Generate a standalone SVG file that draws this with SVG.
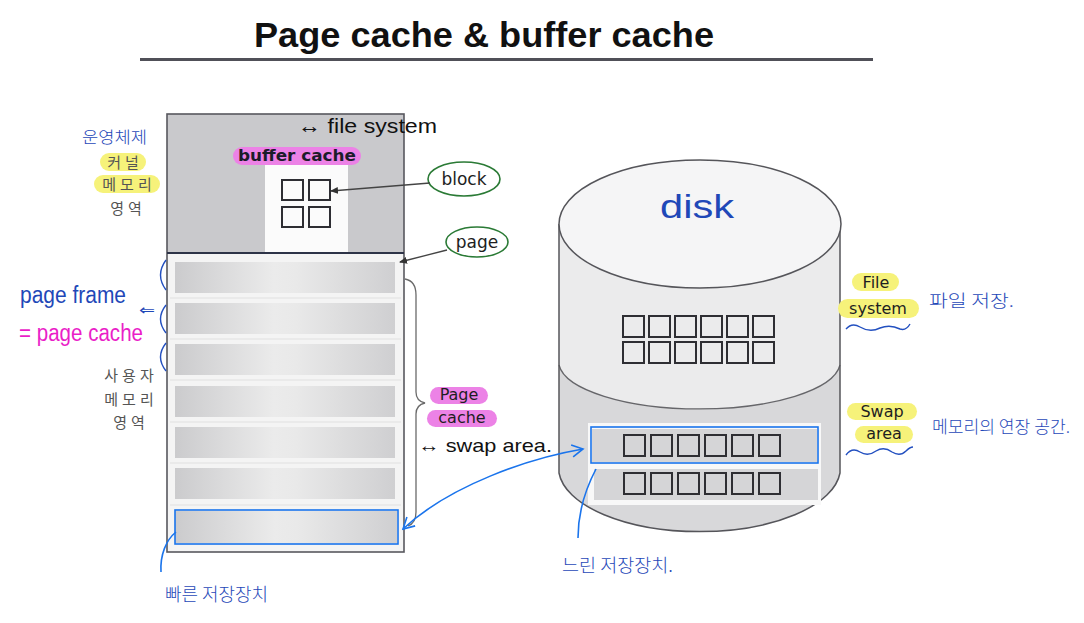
<svg xmlns="http://www.w3.org/2000/svg" width="1084" height="623" viewBox="0 0 1084 623">
<defs>
<style>
.title{font-family:"Liberation Sans","DejaVu Sans",sans-serif;font-weight:bold;font-size:35px;fill:#111}
.lbl{font-family:"DejaVu Sans","Liberation Sans",sans-serif;font-weight:bold;fill:#1c1c2a;text-anchor:middle}
.lbl2{font-family:"DejaVu Sans","Liberation Sans",sans-serif;font-weight:normal;fill:#1e1e22;text-anchor:middle}
.kr{font-family:"Noto Sans CJK KR","Noto Sans",sans-serif;fill:#555;text-anchor:middle;letter-spacing:4px;font-size:15px}
.hand{font-family:"Liberation Sans","DejaVu Sans","Noto Sans CJK KR",sans-serif;font-weight:normal}
.handkr{font-family:"Noto Sans CJK KR","Noto Sans",sans-serif;font-weight:300}
.blue{fill:#1f48b8}
.sq{fill:none;stroke:#2e2e33;stroke-width:2}
.pink{fill:#ec82e6}
.yel{fill:#f6f27a}
.conn{fill:none;stroke:#1a74ec;stroke-width:1.6}
.note{fill:none;stroke:#2350c0;stroke-width:1.4}
.gray{fill:none;stroke:#444;stroke-width:1.3}
.row{fill:url(#rowg)}
</style>
<linearGradient id="rowg" x1="0" y1="0" x2="1" y2="0">
<stop offset="0" stop-color="#cbcbcd"/>
<stop offset="0.45" stop-color="#ebebeb"/>
<stop offset="0.55" stop-color="#e9e9e9"/>
<stop offset="1" stop-color="#cfcfd1"/>
</linearGradient>
<marker id="ah" markerWidth="8" markerHeight="8" refX="7" refY="4" orient="auto" markerUnits="userSpaceOnUse">
<path d="M0,0.5 L8,4 L0,7.5 Z" fill="#333"/>
</marker>
<marker id="bh" markerWidth="14" markerHeight="14" refX="12" refY="7" orient="auto-start-reverse" markerUnits="userSpaceOnUse">
<path d="M1,1 L12,7 L1,13" fill="none" stroke="#1a74ec" stroke-width="1.6"/>
</marker>
</defs>
<rect width="1084" height="623" fill="#ffffff"/>

<g id="title">
<text class="title" x="254" y="47" textLength="460" lengthAdjust="spacingAndGlyphs">Page cache &amp; buffer cache</text>
<line x1="140" y1="59.5" x2="873" y2="59.5" stroke="#505058" stroke-width="3"/>
</g>

<g id="kernel-memory">
<rect x="167" y="114" width="237" height="139" fill="#c9c9cc"/>
<rect x="265" y="165" width="83" height="87" fill="#fbfbfb"/>
<rect class="sq" x="282" y="180" width="21" height="20"/>
<rect class="sq" x="309" y="180" width="21" height="20"/>
<rect class="sq" x="282" y="207" width="21" height="20"/>
<rect class="sq" x="309" y="207" width="21" height="20"/>
<rect class="pink" x="233" y="147" width="128" height="18" rx="9"/>
<text class="lbl" x="297" y="161" font-size="15" textLength="118" lengthAdjust="spacingAndGlyphs">buffer cache</text>
</g>

<g id="user-memory">
<rect x="167" y="253" width="237" height="299" fill="#f4f4f4"/>
<rect class="row" x="175" y="262" width="220" height="31"/>
<rect class="row" x="175" y="303" width="220" height="31"/>
<rect class="row" x="175" y="344" width="220" height="31"/>
<rect class="row" x="175" y="386" width="220" height="31"/>
<rect class="row" x="175" y="427" width="220" height="31"/>
<rect class="row" x="175" y="468" width="220" height="31"/>
<rect class="row" x="175" y="511" width="222" height="32"/>
<g stroke="#e0e0e0" stroke-width="1">
<line x1="170" y1="298" x2="401" y2="298"/>
<line x1="170" y1="339" x2="401" y2="339"/>
<line x1="170" y1="380" x2="401" y2="380"/>
<line x1="170" y1="422" x2="401" y2="422"/>
<line x1="170" y1="463" x2="401" y2="463"/>
<line x1="170" y1="505" x2="401" y2="505"/>
</g>
<rect x="175" y="510" width="223" height="34" fill="none" stroke="#1a74ec" stroke-width="1.6"/>
</g>
<rect id="memory-frame" x="167" y="114" width="237" height="438" fill="none" stroke="#58585e" stroke-width="1.6"/>
<line x1="167" y1="253" x2="404" y2="253" stroke="#2d3347" stroke-width="2"/>

<g id="kernel-label">
<text class="handkr blue" x="82" y="143" font-size="16" textLength="65" lengthAdjust="spacingAndGlyphs">운영체제</text>
<rect class="yel" x="100" y="153" width="46" height="18" rx="9"/>
<rect class="yel" x="94" y="175" width="66" height="18" rx="9"/>
<text class="kr" x="125" y="168">커널</text>
<text class="kr" x="129" y="190">메모리</text>
<text class="kr" x="128" y="214">영역</text>
</g>

<g id="user-label">
<text class="kr" x="131" y="381">사용자</text>
<text class="kr" x="131" y="405">메모리</text>
<text class="kr" x="131" y="428">영역</text>
<text class="hand blue" x="20" y="303" font-size="23" textLength="106" lengthAdjust="spacingAndGlyphs">page frame</text>
<text class="hand blue" x="139" y="315" font-size="15" textLength="16" lengthAdjust="spacingAndGlyphs">⇐</text>
<text class="hand" x="19" y="341" font-size="23" fill="#ea1ec8" textLength="124" lengthAdjust="spacingAndGlyphs">= page cache</text>
<path class="note" d="M166,260 Q155,275 166,290"/>
<path class="note" d="M166,305 Q155,319 166,333"/>
<path class="note" d="M166,343 Q155,357 166,371"/>
</g>

<g id="file-system-note">
<text class="hand" x="298" y="133" font-size="21" fill="#111" textLength="139" lengthAdjust="spacingAndGlyphs">↔ file system</text>
</g>

<g id="block-node">
<ellipse cx="464" cy="179" rx="36" ry="17" fill="#fff" stroke="#2a7a35" stroke-width="1.6"/>
<text class="lbl2" x="464" y="185" font-size="17">block</text>
</g>

<g id="page-node">
<ellipse cx="477" cy="242" rx="31" ry="15" fill="#fff" stroke="#2a7a35" stroke-width="1.6"/>
<text class="lbl2" x="477" y="248" font-size="17">page</text>
</g>

<g id="page-cache-label">
<path fill="none" stroke="#6a6a6a" stroke-width="1.3" d="M405,279 Q416,281 416,295 L416,392 Q416,401 425,403 Q416,405 416,414 L416,512 Q416,523 408,526"/>
<rect class="pink" x="430" y="387" width="58" height="17" rx="8.5"/>
<rect class="pink" x="427" y="410" width="70" height="17" rx="8.5"/>
<text class="lbl2" x="459" y="400" font-size="16">Page</text>
<text class="lbl2" x="462" y="423" font-size="16">cache</text>
<text class="hand" x="418" y="452" font-size="19" fill="#111" textLength="134" lengthAdjust="spacingAndGlyphs">↔ swap area.</text>
</g>

<g id="disk">
<path d="M559,224 L559,473 A141,64 0 0 0 840,473 L840,224 Z" fill="#d8d8da"/>
<path d="M559,224 L559,365 A141,48 0 0 0 840,365 L840,224 Z" fill="#ebebec"/>
<path d="M559,365 A141,48 0 0 0 840,365" fill="none" stroke="#66666a" stroke-width="1.3"/>
<path d="M559,224 L559,473 A141,64 0 0 0 840,473 L840,224" fill="none" stroke="#55555a" stroke-width="1.5"/>
<ellipse cx="700" cy="224" rx="141" ry="64" fill="#f5f5f6" stroke="#55555a" stroke-width="1.5"/>
<text class="hand blue" x="660" y="218" font-size="34" textLength="74" lengthAdjust="spacingAndGlyphs">disk</text>
<g id="fs-blocks">
<rect class="sq" x="623" y="316" width="21" height="21"/>
<rect class="sq" x="649" y="316" width="21" height="21"/>
<rect class="sq" x="675" y="316" width="21" height="21"/>
<rect class="sq" x="701" y="316" width="21" height="21"/>
<rect class="sq" x="727" y="316" width="21" height="21"/>
<rect class="sq" x="753" y="316" width="21" height="21"/>
<rect class="sq" x="623" y="342" width="21" height="21"/>
<rect class="sq" x="649" y="342" width="21" height="21"/>
<rect class="sq" x="675" y="342" width="21" height="21"/>
<rect class="sq" x="701" y="342" width="21" height="21"/>
<rect class="sq" x="727" y="342" width="21" height="21"/>
<rect class="sq" x="753" y="342" width="21" height="21"/>
</g>
<rect x="588" y="423" width="233" height="82" fill="#f8f8f8"/>
<rect x="592" y="429" width="225" height="33" fill="#d5d5d7"/>
<rect x="594" y="469" width="224" height="31" fill="#d5d5d7"/>
<g id="swap-blocks">
<rect class="sq" x="624" y="435" width="21" height="21"/>
<rect class="sq" x="651" y="435" width="21" height="21"/>
<rect class="sq" x="678" y="435" width="21" height="21"/>
<rect class="sq" x="705" y="435" width="21" height="21"/>
<rect class="sq" x="732" y="435" width="21" height="21"/>
<rect class="sq" x="759" y="435" width="21" height="21"/>
<rect class="sq" x="624" y="473" width="21" height="21"/>
<rect class="sq" x="651" y="473" width="21" height="21"/>
<rect class="sq" x="678" y="473" width="21" height="21"/>
<rect class="sq" x="705" y="473" width="21" height="21"/>
<rect class="sq" x="732" y="473" width="21" height="21"/>
<rect class="sq" x="759" y="473" width="21" height="21"/>
</g>
<rect x="591" y="427" width="227" height="36" fill="none" stroke="#1a74ec" stroke-width="1.6"/>
</g>

<g id="disk-labels">
<rect class="yel" x="852" y="273" width="47" height="18" rx="9"/>
<rect class="yel" x="838" y="299" width="81" height="19" rx="9.5"/>
<text class="lbl2" x="876" y="288" font-size="16">File</text>
<text class="lbl2" x="878" y="314" font-size="16">system</text>
<path class="note" d="M846,329 Q852,322 860,327 Q870,333 880,328 Q890,324 900,329 Q906,331 910,324"/>
<text class="handkr blue" x="929" y="307" font-size="17" textLength="85" lengthAdjust="spacingAndGlyphs">파일 저장.</text>
<rect class="yel" x="847" y="403" width="70" height="17" rx="8.5"/>
<rect class="yel" x="855" y="426" width="58" height="17" rx="8.5"/>
<text class="lbl2" x="882" y="417" font-size="16">Swap</text>
<text class="lbl2" x="884" y="439" font-size="16">area</text>
<path class="note" d="M846,455 Q852,447 860,452 Q868,457 876,451 Q884,446 892,452 Q900,457 906,451 Q910,447 913,447"/>
<text class="handkr blue" x="932" y="433" font-size="17" textLength="138" lengthAdjust="spacingAndGlyphs">메모리의 연장 공간.</text>
</g>

<g id="connectors">
<line class="gray" x1="430" y1="183" x2="331" y2="191" marker-end="url(#ah)"/>
<line class="gray" x1="447" y1="250" x2="400" y2="262" marker-end="url(#ah)"/>
<path class="conn" d="M583,449 C530,458 450,485 403,529" marker-start="url(#bh)" marker-end="url(#bh)"/>
<path class="conn" d="M596,469 C585,490 578,515 578,538"/>
<path class="conn" d="M176,532 C166,540 160,555 161,572"/>
</g>

<g id="speed-notes">
<text class="handkr blue" x="562" y="572" font-size="18" textLength="111" lengthAdjust="spacingAndGlyphs">느린 저장장치.</text>
<text class="handkr blue" x="165" y="601" font-size="18" textLength="103" lengthAdjust="spacingAndGlyphs">빠른 저장장치</text>
</g>
</svg>
